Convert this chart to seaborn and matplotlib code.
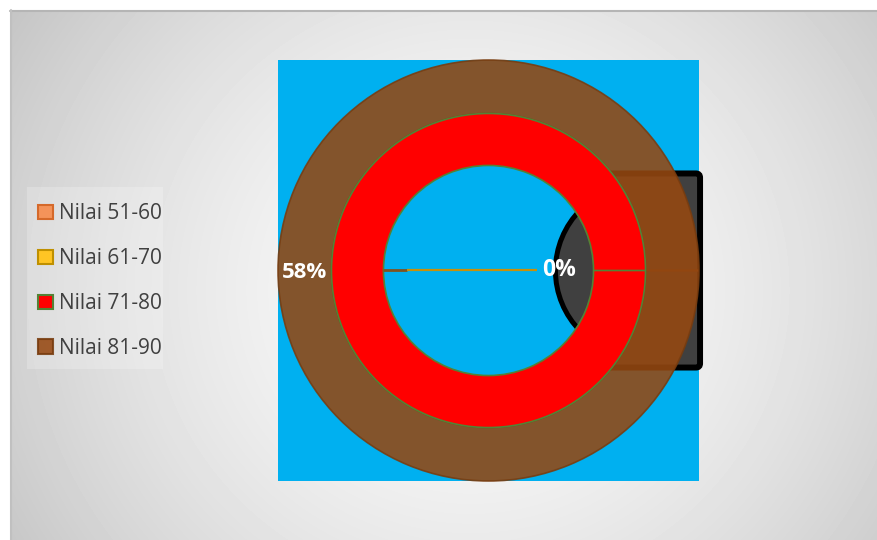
import numpy as np
import matplotlib
matplotlib.use("Agg")
import matplotlib.pyplot as plt
import seaborn as sns
from matplotlib.patches import Patch, Circle, FancyBboxPatch, Rectangle

# ---- data ----
categories = ['Nilai 51-60', 'Nilai 61-70', 'Nilai 71-80', 'Nilai 81-90']
outer_values = [0, 0, 0, 58]      # outer ring
inner_values = [0, 0, 42, 0]      # inner ring
outer_label = '58%'
inner_label = '0%'

face_colors = ['#F4935A', '#FFC524', '#FF0000', '#964811']
edge_colors = ['#D5692A', '#BF9000', '#548235', '#783C0F']

sns.set_theme(style='white')
plt.rcParams['font.family'] = ['Open Sans', 'DejaVu Sans']

W, H = 877, 540
fig = plt.figure(figsize=(W / 100, H / 100), dpi=100)
fig.patch.set_facecolor('white')

# ---- background gradient ----
bg = fig.add_axes([0, 0, 1, 1], zorder=0)
bg.set_xlim(0, W)
bg.set_ylim(H, 0)
bg.axis('off')
yy, xx = np.mgrid[10:H, 10:W]
d = np.hypot(xx - 470, (yy - 290) * 1.05) / 540.0
vals = np.clip(0.985 - 0.21 * d ** 1.6, 0, 1)
bg.imshow(vals, cmap='gray', vmin=0, vmax=1, extent=[10, W, H, 10],
          aspect='auto', interpolation='bilinear')
bg.plot([10, W], [10.5, 10.5], color='#B5B5B5', lw=1.5)
bg.plot([10.5, 10.5], [10, H], color='#C0C0C0', lw=1.5)
# legend backdrop
bg.add_patch(Rectangle((27, 187), 136, 182, facecolor='white', alpha=0.22,
                       edgecolor='none'))

# ---- chart axes (blue square) ----
x0, x1, y0, y1 = 278, 699, 60, 481
ax = fig.add_axes([x0 / W, 1 - y1 / H, (x1 - x0) / W, (y1 - y0) / H], zorder=2)

R_outer = 1.0
R_mid = 0.746
R_inner = 0.499

# decorative shapes behind rings
disc = Circle((0.727, 0.0), 0.409, facecolor='#404040', edgecolor='black',
              lw=3.6, zorder=1)
ax.add_patch(disc)
rect = FancyBboxPatch((0.535, -0.461), 0.47, 0.922,
                      boxstyle='round,pad=0,rounding_size=0.02',
                      facecolor='#404040', edgecolor='black', lw=4.3,
                      zorder=2, clip_on=False)
ax.add_patch(rect)

w1, _ = ax.pie(outer_values, radius=R_outer, colors=face_colors, startangle=0,
               counterclock=False,
               wedgeprops=dict(width=R_outer - R_mid, edgecolor='#783C0F',
                               linewidth=1.2, alpha=0.88))
for w in w1:
    w.set_zorder(3)
w2, _ = ax.pie(inner_values, radius=R_mid, colors=face_colors, startangle=0,
               counterclock=False,
               wedgeprops=dict(width=R_mid - R_inner, edgecolor='#548235',
                               linewidth=1.2))
for w in w2:
    w.set_zorder(4)

ax.set_frame_on(True)
for s in ax.spines.values():
    s.set_visible(False)
ax.set_facecolor('#00B0F0')
ax.set_xlim(-1, 1)
ax.set_ylim(-1, 1)
ax.set_xticks([])
ax.set_yticks([])

# leader lines
ax.plot([-R_inner, -0.387], [0, 0], color='#7F5320', lw=2, zorder=5,
        solid_capstyle='butt')
ax.plot([-0.387, 0.230], [0, 0], color='#C8900A', lw=1.6, zorder=5,
        solid_capstyle='butt')

ax.text(-(R_outer + R_mid) / 2, -0.01, outer_label, color='white',
        fontsize=16, fontweight='bold', ha='center', va='center', zorder=6)
ax.text(0.337, 0.0, inner_label, color='white',
        fontsize=16.5, fontweight='bold', ha='center', va='center', zorder=6)

# ---- legend ----
handles = [Patch(facecolor=fc, edgecolor=ec, lw=1.5, alpha=(0.88 if i == 3 else 1.0))
           for i, (fc, ec) in enumerate(zip(face_colors, edge_colors))]
leg = fig.legend(handles, categories, loc='upper left',
                 bbox_to_anchor=(27 / W, 1 - 192 / H),
                 fontsize=15, frameon=False,
                 handlelength=0.68, handleheight=0.68, handletextpad=0.3,
                 labelspacing=1.14, borderpad=0.55, borderaxespad=0)
for t in leg.get_texts():
    t.set_color('#404040')
leg.set_zorder(3)

fig.savefig('out.png', dpi=100)
